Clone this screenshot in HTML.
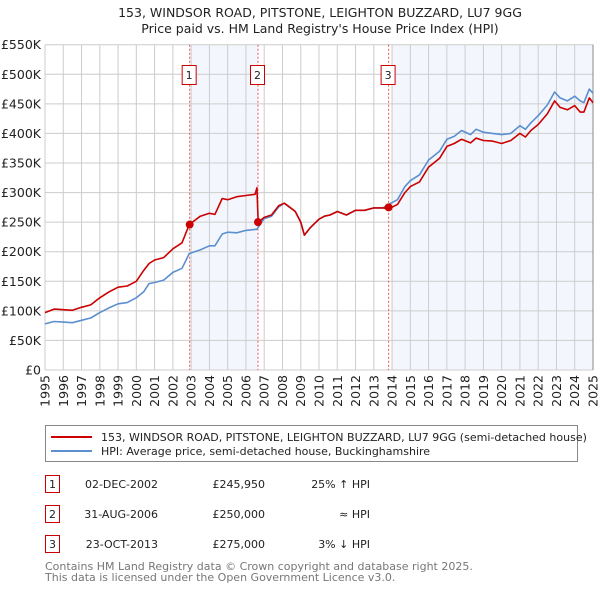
<!DOCTYPE html>
<html><head><meta charset="utf-8"><style>
body{margin:0;background:#fff;}
svg{display:block;font-family:"DejaVu Sans","Liberation Sans",sans-serif;}
</style></head><body>
<svg width="600" height="590" viewBox="0 0 600 590" id="svg">
<text x="320" y="17" text-anchor="middle" font-size="12.5" fill="#222">153, WINDSOR ROAD, PITSTONE, LEIGHTON BUZZARD, LU7 9GG</text>
<text x="320" y="33" text-anchor="middle" font-size="12.5" fill="#222">Price paid vs. HM Land Registry's House Price Index (HPI)</text>
<g id="plot"></g>
<g>
<rect x="45.5" y="425.5" width="532" height="36" fill="#fff" stroke="#888"/>
<line x1="51" y1="437" x2="92" y2="437" stroke="#cc0000" stroke-width="2"/>
<text x="101" y="441" font-size="11" fill="#222">153, WINDSOR ROAD, PITSTONE, LEIGHTON BUZZARD, LU7 9GG (semi-detached house)</text>
<line x1="51" y1="451" x2="92" y2="451" stroke="#5b8fd0" stroke-width="2"/>
<text x="101" y="455" font-size="11" fill="#222">HPI: Average price, semi-detached house, Buckinghamshire</text>
</g>
<g font-size="11" fill="#222">
<rect x="45.5" y="475.5" width="14" height="17" fill="none" stroke="#cc0000"/>
<text x="52.5" y="488" text-anchor="middle">1</text>
<text x="158" y="488" text-anchor="end">02-DEC-2002</text>
<text x="265" y="488" text-anchor="end">£245,950</text>
<text x="370" y="488" text-anchor="end">25% ↑ HPI</text>
<rect x="45.5" y="505.5" width="14" height="17" fill="none" stroke="#cc0000"/>
<text x="52.5" y="518" text-anchor="middle">2</text>
<text x="158" y="518" text-anchor="end">31-AUG-2006</text>
<text x="265" y="518" text-anchor="end">£250,000</text>
<text x="370" y="518" text-anchor="end">≈ HPI</text>
<rect x="45.5" y="535.5" width="14" height="17" fill="none" stroke="#cc0000"/>
<text x="52.5" y="548" text-anchor="middle">3</text>
<text x="158" y="548" text-anchor="end">23-OCT-2013</text>
<text x="265" y="548" text-anchor="end">£275,000</text>
<text x="370" y="548" text-anchor="end">3% ↓ HPI</text>
</g>
<text x="45" y="570" font-size="11" fill="#777">Contains HM Land Registry data © Crown copyright and database right 2025.</text>
<text x="45" y="581" font-size="11" fill="#777">This data is licensed under the Open Government Licence v3.0.</text>
</svg>
<script>
const yTicks=[0,50,100,150,200,250,300,350,400,450,500,550];
const yTickLabels=["£0","£50K","£100K","£150K","£200K","£250K","£300K","£350K","£400K","£450K","£500K","£550K"];
const xYears=[1995,1996,1997,1998,1999,2000,2001,2002,2003,2004,2005,2006,2007,2008,2009,2010,2011,2012,2013,2014,2015,2016,2017,2018,2019,2020,2021,2022,2023,2024,2025];
const hpiT=[1995,1995.5,1996,1996.5,1997,1997.5,1998,1998.5,1999,1999.5,2000,2000.4,2000.7,2001,2001.5,2002,2002.5,2002.9,2003.5,2004,2004.3,2004.7,2005,2005.5,2006,2006.6,2007,2007.4,2007.8,2008.1,2008.4,2008.7,2009.0,2009.2,2009.5,2010,2010.3,2010.6,2011,2011.5,2012,2012.5,2013,2013.5,2013.8,2014.3,2014.7,2015,2015.5,2016,2016.6,2017,2017.4,2017.8,2018.3,2018.6,2019,2019.5,2020,2020.5,2021,2021.3,2021.6,2022,2022.5,2022.9,2023.2,2023.6,2024,2024.3,2024.5,2024.8,2025];
const hpiV=[78,82,81,80,84,88,97,105,112,114,122,132,146,148,152,165,172,197,203,210,210,230,233,232,236,238,256,260,276,282,275,268,250,228,240,255,260,262,268,262,270,270,274,274,280,288,310,320,330,355,370,390,395,405,398,407,402,400,398,400,413,407,418,430,448,470,460,455,463,455,452,475,468];
const redT=[1995,1995.5,1996,1996.5,1997,1997.5,1998,1998.5,1999,1999.5,2000,2000.4,2000.7,2001,2001.5,2002,2002.5,2002.9,2003.5,2004,2004.3,2004.7,2005,2005.5,2006,2006.5,2006.6,2006.67,2007,2007.4,2007.8,2008.1,2008.4,2008.7,2009.0,2009.2,2009.5,2010,2010.3,2010.6,2011,2011.5,2012,2012.5,2013,2013.5,2013.8,2014.3,2014.7,2015,2015.5,2016,2016.6,2017,2017.4,2017.8,2018.3,2018.6,2019,2019.5,2020,2020.5,2021,2021.3,2021.6,2022,2022.5,2022.9,2023.2,2023.6,2024,2024.3,2024.5,2024.8,2025];
const redV=[97,103,102,101,106,110,122,132,140,142,150,168,180,186,190,205,215,246,260,265,263,290,288,293,295,297,308,250,258,262,278,282,275,268,250,228,240,255,260,262,268,262,270,270,274,274,272,280,300,310,318,343,358,378,383,390,384,392,388,387,383,388,400,394,405,415,433,455,444,440,447,436,436,460,452];
const saleT=[2002.92,2006.66,2013.81];
const saleV=[245.95,250,275];
const saleLabels=["1","2","3"];
const NS="http://www.w3.org/2000/svg";
const L=45,R=593,T=44.7,B=370;
const sx=t=>L+(t-1995)*(R-L)/30;
const sy=v=>B-v*(B-T)/550;
const g=document.getElementById('plot');
function mk(tag,a){const e=document.createElementNS(NS,tag);for(const k in a)e.setAttribute(k,a[k]);g.appendChild(e);return e;}
let e=mk('rect',{x:sx(saleT[0]),y:T,width:sx(saleT[1])-sx(saleT[0]),height:B-T,fill:'#eef3fc',opacity:0.7});


e=mk('rect',{x:sx(saleT[2])+4,y:T,width:R-sx(saleT[2])-4,height:B-T,fill:'#eef3fc',opacity:0.7});


yTicks.forEach((v,i)=>{
 e=mk('line',{x1:L,x2:R,y1:sy(v),y2:sy(v),stroke:'#cccccc','stroke-width':1});
 
 
 e=mk('text',{x:L-4,y:sy(v)+4.5,'text-anchor':'end','font-size':12.5,fill:'#222'});
 e.textContent=yTickLabels[i];
 
 
});
xYears.forEach(y=>{
 e=mk('line',{x1:sx(y),x2:sx(y),y1:T,y2:B,stroke:'#cccccc','stroke-width':1});
 
 
 e=mk('text',{x:0,y:0,'text-anchor':'end','font-size':12.5,fill:'#222',transform:`translate(${sx(y)+4.5},375) rotate(-90)`});
 e.textContent=y;
 
 
});
e=mk('line',{x1:R,x2:R,y1:T,y2:B,stroke:'#888'});


saleT.forEach((t,i)=>{
 e=mk('line',{x1:sx(t),x2:sx(t),y1:T,y2:B,stroke:'#ee5555','stroke-width':1,'stroke-dasharray':'2,2'});
 
 
 e=mk('rect',{x:sx(t)-7.5,y:65.5,width:14,height:19,fill:'#fff',stroke:'#cc0000'});
 
 
 e=mk('text',{x:sx(t)-0.5,y:79,'text-anchor':'middle','font-size':11,fill:'#222'});
 e.textContent=saleLabels[i];
 
 
});
const pts=(T2,V)=>T2.map((t,i)=>sx(t).toFixed(1)+','+sy(V[i]).toFixed(1)).join(' ');
e=mk('polyline',{points:pts(hpiT,hpiV),fill:'none',stroke:'#5b8fd0','stroke-width':1.6,'stroke-linejoin':'round'});


e=mk('polyline',{points:pts(redT,redV),fill:'none',stroke:'#cc0000','stroke-width':1.6,'stroke-linejoin':'round'});


saleT.forEach((t,i)=>{
 e=mk('circle',{cx:sx(t),cy:sy(saleV[i]),r:4,fill:'#cc0000'});
 
 
});
</script>
</body></html>
